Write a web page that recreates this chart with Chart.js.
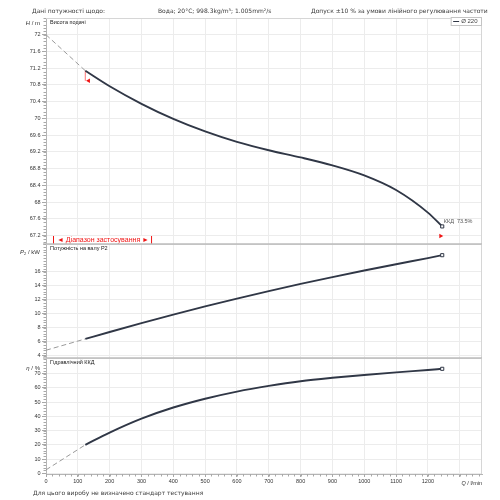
<!DOCTYPE html>
<html><head><meta charset="utf-8">
<script src="https://cdn.jsdelivr.net/npm/chart.js@4.4.1/dist/chart.umd.min.js"></script>
<style>
html,body{margin:0;padding:0;background:#fff;}
#wrap{position:relative;width:500px;height:500px;background:#fff;overflow:hidden;}
#wrap canvas{position:absolute;left:0;top:0;}
</style></head><body>
<div id="wrap">
<canvas id="cH" width="500" height="500"></canvas>
<canvas id="cP" width="500" height="500"></canvas>
<canvas id="cE" width="500" height="500"></canvas>
</div>
<script>
// ---- data ----
const Q = [123.6, 200, 300, 400, 500, 600, 700, 800, 900, 1000, 1100, 1200, 1245];
const HEAD = [71.14, 70.77, 70.35, 69.99, 69.69, 69.44, 69.24, 69.07, 68.88, 68.64, 68.29, 67.75, 67.42];
const POWER = [6.43, 7.42, 8.69, 9.91, 11.08, 12.2, 13.27, 14.29, 15.27, 16.21, 17.11, 17.98, 18.4];
const EFF = [20.0, 28.6, 38.4, 46.2, 52.4, 57.4, 61.4, 64.7, 67.1, 69.1, 70.9, 72.6, 73.4];
const Q_EXT = [0, 123.6];
const HEAD_EXT = [72.0, 71.14];
const POWER_EXT = [4.81, 6.43];
const EFF_EXT = [2.4, 20.0];
const RANGE_MARK_Q = [134, 1240];
const RANGE_MARK_H = [70.9, 67.19];
const X_TICKS = [0, 100, 200, 300, 400, 500, 600, 700, 800, 900, 1000, 1100, 1200, 1300];
const X_TICK_LABELS = ['0','100','200','300','400','500','600','700','800','900','1000','1100','1200',''];
const H_TICK_LABELS = ['67.2','67.6','68','68.4','68.8','69.2','69.6','70','70.4','70.8','71.2','71.6','72'];
const P_TICK_LABELS = ['4','6','8','10','12','14','16'];
const E_TICK_LABELS = ['0','10','20','30','40','50','60','70'];
const SERIES_NAME = 'Ø 220';
const END_LABEL = 'ККД  73.5%';
const HEADER = ['Дані потужності щодо:', 'Вода; 20°C; 998.3kg/m³; 1.005mm²/s', 'Допуск ±10 % за умови лінійного регулювання частоти'];
const FOOTER = 'Для цього виробу не визначено стандарт тестування';
const PANEL_TITLES = ['Висота подачі', 'Потужність на валу P2', 'Гідравлічний ККД'];
const RANGE_TEXT = '◄ Діапазон застосування ►';

const SANS = '"Liberation Sans", Arial, sans-serif';
const DV = '"DejaVu Sans", sans-serif';
const CURVE = '#303746';
const TXT = '#333';

function pts(xs, ys){ return xs.map((x,i)=>({x:x, y:ys[i]})); }

function drawParts(ctx, parts, xRight, y){
  let total = 0;
  parts.forEach(p=>{ ctx.font = (p.it?'italic ':'') + p.s + 'px ' + SANS; p.w = ctx.measureText(p.t).width; total += p.w; });
  let x = xRight - total;
  parts.forEach(p=>{ ctx.font = (p.it?'italic ':'') + p.s + 'px ' + SANS; ctx.fillText(p.t, x, y + (p.dy||0)); x += p.w; });
}

const decor = {
  id: 'decor',
  afterDraw(chart, args, o){
    const ctx = chart.ctx, a = chart.chartArea, ys = chart.scales.y, xs = chart.scales.x;
    ctx.save();
    ctx.strokeStyle = '#d6d6d6'; ctx.lineWidth = 1;
    ctx.beginPath(); ctx.moveTo(a.left, a.top+0.5); ctx.lineTo(a.right-0.5, a.top+0.5); ctx.lineTo(a.right-0.5, a.bottom); ctx.stroke();
    if (o.sep){
      ctx.strokeStyle = '#bdbdbd'; ctx.lineWidth = 1.6;
      ctx.beginPath(); ctx.moveTo(a.left-3, a.top); ctx.lineTo(a.right, a.top); ctx.stroke();
    }
    ctx.strokeStyle = '#a8a8a8'; ctx.lineWidth = 1;
    const base = o.yBase;
    for (let k=-200; k<=200; k++){
      const v = base + k*o.yStep;
      if (v < ys.min || v > ys.max) continue;
      const py = Math.round(ys.getPixelForValue(v)) + 0.5;
      ctx.beginPath(); ctx.moveTo(a.left-2.5, py); ctx.lineTo(a.left, py); ctx.stroke();
    }
    if (o.xMinor){
      for (let v=0; v<=xs.max; v+=20){
        const px = Math.round(xs.getPixelForValue(v)) + 0.5;
        ctx.beginPath(); ctx.moveTo(px, a.bottom); ctx.lineTo(px, a.bottom+2.5); ctx.stroke();
      }
      ctx.fillStyle = TXT; ctx.textBaseline = 'middle';
      drawParts(ctx, [{t:'Q', it:true, s:5.5},{t:' / l/min', s:5.5}], a.right, a.bottom + 9);
    }
    ctx.fillStyle = '#1a1a1a'; ctx.textBaseline = 'top'; ctx.font = '5.5px ' + SANS;
    ctx.fillText(o.title, a.left + 4, a.top + 2);
    ctx.fillStyle = TXT; ctx.textBaseline = 'middle';
    drawParts(ctx, o.axisTitle, 40, a.top + o.axisTitleDy);
    ctx.restore();
  }
};

const headExtra = {
  id: 'headExtra',
  afterDraw(chart){
    const ctx = chart.ctx, a = chart.chartArea, ys = chart.scales.y, xs = chart.scales.x;
    ctx.save();
    ctx.fillStyle = '#3a3a3a'; ctx.textBaseline = 'middle'; ctx.font = '6px ' + DV;
    ctx.fillText(HEADER[0], 32, 11);
    ctx.fillText(HEADER[1], 158, 11);
    ctx.fillText(HEADER[2], 311, 11);
    ctx.fillText(FOOTER, 33, 493);
    ctx.font = '6px ' + SANS;
    const tw = ctx.measureText(SERIES_NAME).width;
    const bw = tw + 14, bx = a.right - 1 - bw, by = a.top - 1;
    ctx.fillStyle = '#fff'; ctx.fillRect(bx, by, bw, 8);
    ctx.strokeStyle = '#c4c4c4'; ctx.lineWidth = 1; ctx.strokeRect(bx+0.5, by+0.5, bw, 8);
    ctx.strokeStyle = CURVE; ctx.lineWidth = 1;
    ctx.beginPath(); ctx.moveTo(bx+2.5, by+4.5); ctx.lineTo(bx+8.5, by+4.5); ctx.stroke();
    ctx.fillStyle = '#444'; ctx.textBaseline = 'middle';
    ctx.fillText(SERIES_NAME, bx + 10.5, by + 4.8);
    const n = Q.length - 1;
    const ex = xs.getPixelForValue(Q[n]), ey = ys.getPixelForValue(HEAD[n]);
    ctx.fillStyle = '#555'; ctx.font = '5.5px ' + SANS;
    ctx.fillText(END_LABEL, ex + 1.5, ey - 4.5);
    ctx.font = '7px ' + SANS;
    const rw = ctx.measureText(RANGE_TEXT).width;
    const rx = 57, ry = a.bottom - 4;
    ctx.fillStyle = '#fff'; ctx.fillRect(rx - 3, ry - 4, rw + 6, 8);
    ctx.fillStyle = '#f01414'; ctx.fillText(RANGE_TEXT, rx, ry);
    ctx.strokeStyle = '#f01414'; ctx.lineWidth = 1;
    ctx.beginPath(); ctx.moveTo(rx - 3.5, ry - 4); ctx.lineTo(rx - 3.5, ry + 5);
    ctx.moveTo(rx + rw + 2.5, ry - 4); ctx.lineTo(rx + rw + 2.5, ry + 5); ctx.stroke();
    ctx.restore();
  }
};

function makeChart(id, cfg){
  const endIdx = Q.length - 1;
  const datasets = [
    { data: pts(Q, cfg.vals), borderColor: CURVE, borderWidth: 1.9, cubicInterpolationMode: 'monotone',
      pointRadius: c => c.dataIndex === endIdx ? 2.2 : 0, pointStyle: 'rect',
      pointBackgroundColor: '#fff', pointBorderColor: CURVE, pointBorderWidth: 1, order: 1 },
    { data: pts(Q_EXT, cfg.ext), borderColor: '#9a9a9a', borderWidth: 1, borderDash: [5,3], pointRadius: 0, order: 2 }
  ].concat(cfg.extra || []);
  return new Chart(document.getElementById(id), {
    type: 'line',
    data: { datasets },
    options: {
      responsive: false, animation: false, devicePixelRatio: 1,
      layout: { padding: { top: cfg.padTop, bottom: cfg.padBottom, left: 0, right: 18 } },
      plugins: { legend: { display: false }, tooltip: { enabled: false }, decor: cfg.decor },
      scales: {
        x: { type: 'linear', min: 0, max: 1370,
          afterBuildTicks: s => { s.ticks = X_TICKS.map(v => ({ value: v })); },
          afterFit: s => { s.height = cfg.showX ? 26 : 0; },
          ticks: { display: cfg.showX, autoSkip: false, maxRotation: 0, padding: 1.5, color: TXT,
                   font: { family: SANS, size: 5.5 }, callback: (v, i) => X_TICK_LABELS[i] },
          grid: { color: '#ececec', lineWidth: 1, drawTicks: cfg.showX, tickLength: 3, tickColor: '#a8a8a8' },
          border: { display: cfg.showX, color: '#b5b5b5' } },
        y: { type: 'linear', min: cfg.min, max: cfg.max,
          afterBuildTicks: s => { s.ticks = cfg.labels.map(l => ({ value: parseFloat(l) })); },
          afterFit: s => { s.width = 46; },
          ticks: { autoSkip: false, padding: 1.5, color: TXT, font: { family: SANS, size: 5.5 },
                   callback: (v, i) => cfg.labels[i] },
          grid: { color: '#ececec', lineWidth: 1, tickLength: 4, tickColor: '#a8a8a8' },
          border: { color: '#b5b5b5' } }
      }
    },
    plugins: [decor].concat(cfg.plugins || [])
  });
}

makeChart('cH', { vals: HEAD, ext: HEAD_EXT, min: 67.0, max: 72.4, labels: H_TICK_LABELS,
  padTop: 18, padBottom: 256, showX: false,
  extra: [
    { data: [{x: Q[0], y: HEAD[0]}, {x: Q[0], y: RANGE_MARK_H[0]}], borderColor: 'rgba(255,110,110,0.45)', borderWidth: 1, pointRadius: 0, order: 3 },
    { data: pts(RANGE_MARK_Q, RANGE_MARK_H), showLine: false, pointStyle: 'triangle', pointRotation: [270, 90],
      pointRadius: 2.6, pointBackgroundColor: '#f01414', pointBorderColor: '#f01414', pointBorderWidth: 0, order: 0 }
  ],
  decor: { yBase: 67.2, yStep: 0.08, title: PANEL_TITLES[0], axisTitle: [{t:'H', it:true, s:6},{t:' / m', s:6}], axisTitleDy: 5 },
  plugins: [headExtra] });

makeChart('cP', { vals: POWER, ext: POWER_EXT, min: 3.7, max: 20, labels: P_TICK_LABELS,
  padTop: 244, padBottom: 142, showX: false,
  decor: { sep: true, yBase: 4, yStep: 0.4, title: PANEL_TITLES[1],
    axisTitle: [{t:'P', it:true, s:6},{t:'2', s:4, dy:1.5},{t:' / kW', s:6}], axisTitleDy: 8 } });

makeChart('cE', { vals: EFF, ext: EFF_EXT, min: -0.5, max: 81, labels: E_TICK_LABELS,
  padTop: 358, padBottom: 0, showX: true,
  decor: { sep: true, yBase: 0, yStep: 2, xMinor: true, title: PANEL_TITLES[2],
    axisTitle: [{t:'η', it:true, s:6},{t:' / %', s:6}], axisTitleDy: 10 } });
</script>
</body></html>
